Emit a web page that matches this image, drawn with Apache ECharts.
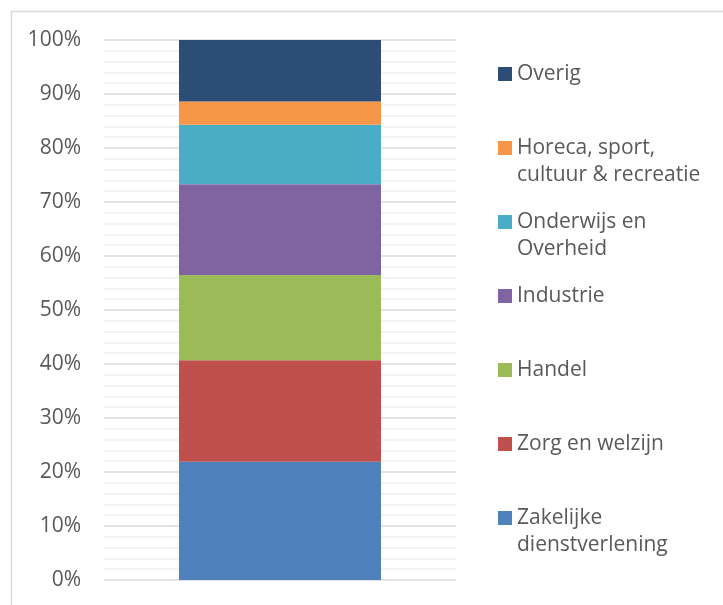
<!DOCTYPE html>
<html>
<head>
<meta charset="utf-8">
<script src="https://cdn.jsdelivr.net/npm/echarts@6/dist/echarts.min.js"></script>
<style>
  html, body { margin: 0; padding: 0; background: #fff; }
  #chart { width: 723px; height: 605px; }
</style>
</head>
<body>
<div id="chart"></div>
<script>
// data (percentages, bottom to top of the stack)
var categories = ['Totaal'];
var seriesNames = ['Zakelijke dienstverlening', 'Zorg en welzijn', 'Handel', 'Industrie', 'Onderwijs en Overheid', 'Horeca, sport, cultuur & recreatie', 'Overig'];
var legendLabels = ['Zakelijke\ndienstverlening', 'Zorg en welzijn', 'Handel', 'Industrie', 'Onderwijs en\nOverheid', 'Horeca, sport,\ncultuur & recreatie', 'Overig'];
var seriesValues = [21.9, 18.8, 15.8, 16.8, 11.0, 4.3, 11.4];
var colors = ['#4f81bd', '#c0504d', '#9bbb59', '#8064a2', '#4bacc6', '#f79646', '#2c4d75'];
var yTicks = [0, 10, 20, 30, 40, 50, 60, 70, 80, 90, 100];

window.onload = function () {
  var textColor = '#595959';
  var font = 'Open Sans';
  var lh = 27;

  var series = seriesNames.map(function (name, i) {
    return {
      name: name,
      type: 'bar',
      stack: 'total',
      barWidth: 202,
      data: [seriesValues[i]],
      itemStyle: { color: colors[i] }
    };
  });

  // one legend per item, top to bottom = reverse of the stack
  // two-line labels get a blank line on top so the square sits on the first line
  var legends = [];
  for (var k = 0; k < seriesNames.length; k++) {
    var i = seriesNames.length - 1 - k;
    var twoLines = legendLabels[i].indexOf('\n') >= 0;
    var label = twoLines ? ' \n' + legendLabels[i] : legendLabels[i];
    var center = 74 + k * 74;
    legends.push({
      data: [seriesNames[i]],
      left: 498,
      top: twoLines ? center - lh * 1.5 : center - lh / 2,
      orient: 'vertical',
      itemWidth: 14,
      itemHeight: 14,
      itemGap: 0,
      padding: 0,
      icon: 'rect',
      selectedMode: false,
      formatter: (function (lbl) { return function () { return lbl; }; })(label),
      textStyle: {
        color: textColor,
        fontFamily: font,
        fontSize: 21,
        lineHeight: lh
      }
    });
  }

  var option = {
    backgroundColor: '#fff',
    animation: false,
    graphic: [{
      type: 'rect',
      shape: { x: 11.5, y: 11.5, width: 740, height: 640 },
      style: { fill: 'none', stroke: '#d9d9d9', lineWidth: 1.5 },
      silent: true
    }],
    grid: { left: 104, right: 267, top: 40, bottom: 25 },
    legend: legends,
    xAxis: {
      type: 'category',
      data: categories,
      axisLine: { show: false },
      axisTick: { show: false },
      axisLabel: { show: false }
    },
    yAxis: {
      type: 'value',
      min: yTicks[0],
      max: yTicks[yTicks.length - 1],
      interval: 10,
      axisLine: { show: false },
      axisTick: { show: false },
      axisLabel: {
        formatter: '{value}%',
        color: textColor,
        fontFamily: font,
        fontSize: 21,
        margin: 23
      },
      splitLine: { lineStyle: { color: '#d9d9d9', width: 1.5 } },
      minorTick: { show: false, splitNumber: 5 },
      minorSplitLine: { show: true, lineStyle: { color: '#f0f0f0', width: 1.5 } }
    },
    series: series
  };

  var myChart = echarts.init(document.getElementById('chart'));
  myChart.setOption(option);
};
</script>
</body>
</html>
